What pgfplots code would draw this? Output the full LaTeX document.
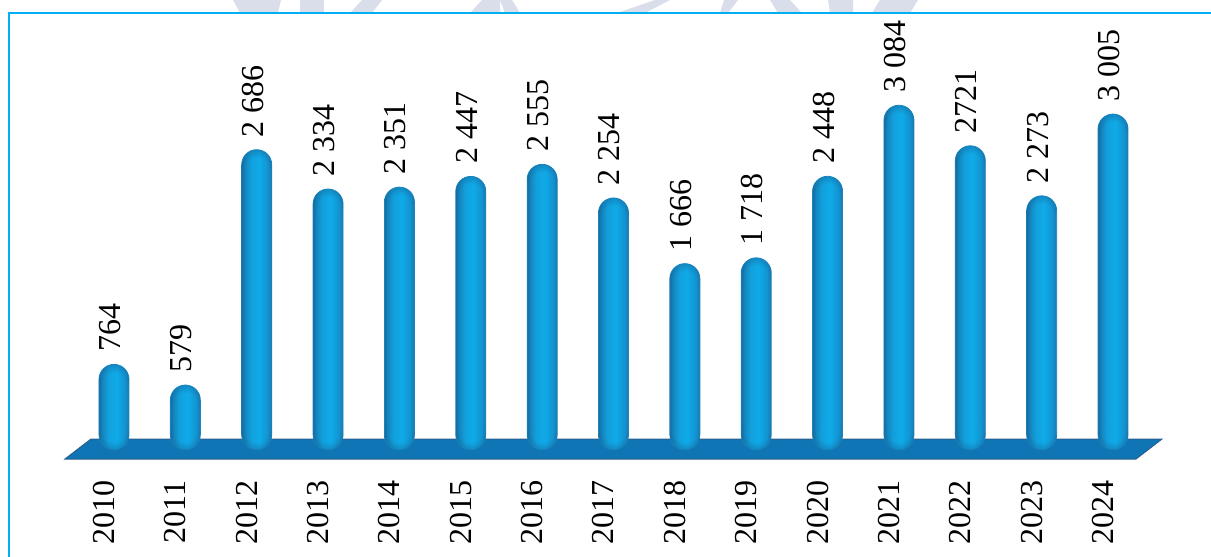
\documentclass[border=0pt]{standalone}
\usepackage{fontspec}
\setmainfont{Liberation Serif}
\usepackage{pgfplots}
\usepackage{pgfplotstable}
\usetikzlibrary{fadings}
\pgfplotsset{compat=1.18}
\definecolor{frameblue}{HTML}{00B0F0}
\definecolor{wmark}{HTML}{DADEEA}
\definecolor{deck}{HTML}{0F75B5}
\definecolor{deckedge}{HTML}{2A5F8F}
\definecolor{rim}{HTML}{1A86BE}
\definecolor{capa}{HTML}{176BA0}
\definecolor{capb}{HTML}{1485BD}
\definecolor{capc}{HTML}{12A0DC}
\definecolor{capd}{HTML}{0FAAE8}
\definecolor{cape}{HTML}{1294D1}
\definecolor{capf}{HTML}{1F76AD}
\definecolor{glow}{HTML}{1FBDF6}
\pgfdeclarehorizontalshading{capsule}{100bp}{
  color(0bp)=(capa);
  color(25bp)=(capa);
  color(30bp)=(capb);
  color(40bp)=(capc);
  color(54bp)=(capd);
  color(68bp)=(cape);
  color(75bp)=(capf);
  color(100bp)=(capf)}
% darker rim of the round ends
\pgfdeclareradialshading{toprim}{\pgfpoint{0bp}{-12bp}}{
  color(0bp)=(black); color(20bp)=(black); color(37bp)=(white); color(50bp)=(white)}
\pgfdeclareradialshading{botrim}{\pgfpoint{0bp}{12bp}}{
  color(0bp)=(black); color(20bp)=(black); color(37bp)=(white); color(50bp)=(white)}
\pgfdeclarefading{toprimfade}{\pgfuseshading{toprim}}
\pgfdeclarefading{botrimfade}{\pgfuseshading{botrim}}
\pgfplotstableread[col sep=comma]{
year,value,label
2010,764,764
2011,579,579
2012,2686,2 686
2013,2334,2 334
2014,2351,2 351
2015,2447,2 447
2016,2555,2 555
2017,2254,2 254
2018,1666,1 666
2019,1718,1 718
2020,2448,2 448
2021,3084,3 084
2022,2721,2721
2023,2273,2 273
2024,3005,3 005
}\bars
\begin{document}
\begin{tikzpicture}
\path[use as bounding box] (0,0) rectangle (605.5pt,-278.5pt);
\begin{scope}[x=0.5pt,y=-0.5pt]
  % watermark remains above the frame
  \fill[wmark] (233,0)--(281,0)--(278,13)--(240,13)--cycle;
  \fill[wmark] (300,0)--(324,0)--(324,13)--(300,13)--cycle;
  \fill[wmark] (362,0)--(382,0)--(372,13)--(350,13)--cycle;
  \fill[wmark] (482,0)--(500,0)--(500,13)--(470,13)--cycle;
  \fill[wmark] (500,0)--(512,0)--(520,13)--(505,13)--cycle;
  \fill[wmark] (670,0)--(655,0)--(617,13)--(645,13)--cycle;
  \fill[wmark] (738,0)--(724,0)--(720,13)--(728,13)--cycle;
  \fill[wmark] (770,0)--(790,0)--(802,13)--(778,13)--cycle;
  \fill[wmark] (828,0)--(853,0)--(853,13)--(830,13)--cycle;
  \fill[wmark] (880,0)--(918,0)--(910,13)--(872,13)--cycle;
  % frame: left and top only
  \draw[frameblue,line width=1.4pt] (9,557)--(9,13)--(1211,13);
\end{scope}
\begin{axis}[
  at={(0,0)},anchor=north west,
  scale only axis,
  width=605.5pt,height=278.5pt,
  xmin=2008.4025,xmax=2025.373,
  ymin=-960.6,ymax=4026,
  axis line style={draw=none},
  ytick=\empty,
  xtick={2010,...,2024},
  xticklabels={2010,2011,2012,2013,2014,2015,2016,2017,2018,2019,2020,2021,2022,2023,2024},
  major tick length=0pt,
  xticklabel style={font=\fontsize{16}{18}\selectfont,rotate=90,anchor=east,
    xshift=38.5pt,yshift=5pt,inner sep=0pt},
  clip=false,
]
% floor under the cylinders
\addplot[fill=deck,draw=deckedge,line width=0.5pt] coordinates {
  (2009.313,-83.3) (2024.322,-83.3) (2024.686,95.8) (2009.678,95.8)
} -- cycle;
% one plot per cylinder so that each gets its own shading
\pgfplotsinvokeforeach{2010,...,2024}{
\addplot[
  ybar,bar width=15pt,bar shift=0pt,
  draw=rim,line width=0.4pt,
  shade,shading=capsule,
  rounded corners=7.5pt,
  restrict x to domain=#1:#1,
  point meta=explicit symbolic,
  nodes near coords,
  nodes near coords style={font=\fontsize{16}{18}\selectfont,rotate=90,anchor=west,
    inner sep=0pt,xshift=6pt,yshift=2pt,sharp corners},
] table[x=year,y=value,meta=label] {\bars};
}
% shading of the round ends
\addplot[only marks,mark=none,
  nodes near coords={},
  nodes near coords style={circle,inner sep=0pt,minimum size=15pt,anchor=north,
    fill=capa,fill opacity=0.85,path fading=toprimfade},
] table[x=year,y=value] {\bars};
\addplot[only marks,mark=none,
  nodes near coords={},
  nodes near coords style={circle,inner sep=0pt,minimum size=15pt,anchor=south,
    fill=capa,fill opacity=0.85,path fading=botrimfade},
] table[x=year,y expr=0] {\bars};
\end{axis}
\end{tikzpicture}
\end{document}
